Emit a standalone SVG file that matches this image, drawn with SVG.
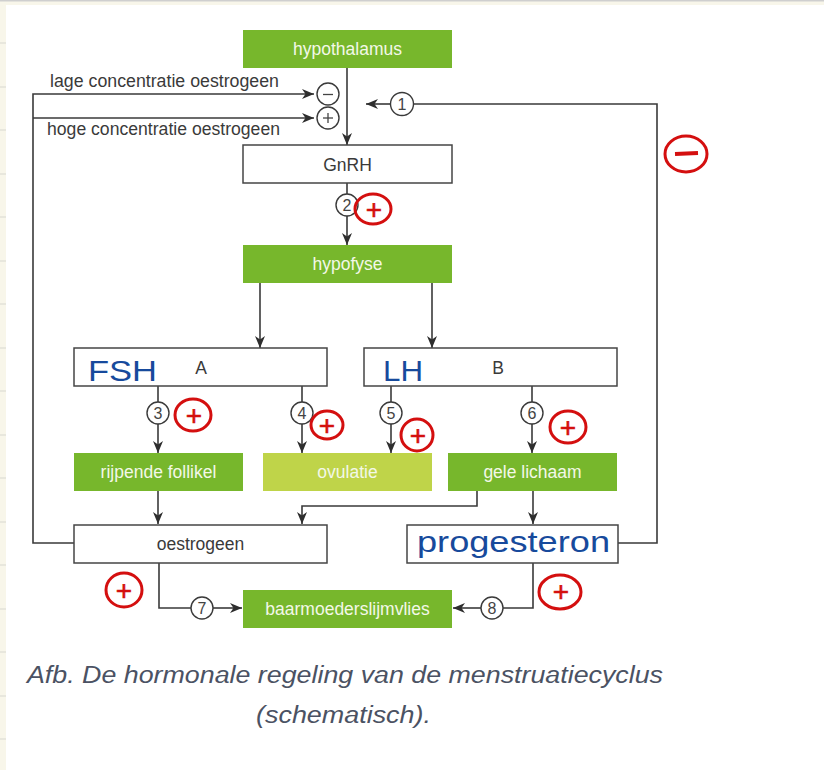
<svg xmlns="http://www.w3.org/2000/svg" width="824" height="770" viewBox="0 0 824 770">
<style>
.g{fill:#77b72c}
.lg{fill:#bfd449}
.w{fill:#fff;stroke:#454545;stroke-width:1.5}
.tg{font-family:"Liberation Sans",Arial,sans-serif;font-size:17.5px;fill:#f3f8e8;text-anchor:middle}
.tw{font-family:"Liberation Sans",Arial,sans-serif;font-size:17.5px;fill:#3a3a3a;text-anchor:middle}
.tl{font-family:"Liberation Sans",Arial,sans-serif;font-size:17.5px;fill:#3a3a3a}
.ln{fill:none;stroke:#3a3a3a;stroke-width:1.6}
.nc{fill:#fff;stroke:#3a3a3a;stroke-width:1.4}
.nt{font-family:"Liberation Sans",Arial,sans-serif;font-size:16px;fill:#444;text-anchor:middle}
.re{fill:none;stroke:#d40f0f;stroke-width:3}
.rt{font-family:"Liberation Sans",Arial,sans-serif;font-size:28px;fill:#d40f0f;stroke:#d40f0f;stroke-width:0.6;text-anchor:middle}
.bt{font-family:"Liberation Sans",Arial,sans-serif;fill:#174a9c}
.cap{font-family:"Liberation Sans",Arial,sans-serif;font-style:italic;font-size:23px;fill:#4b5263}
</style>
<defs>
<marker id="ah" viewBox="0 0 12 10" refX="12" refY="5" markerWidth="12" markerHeight="10" markerUnits="userSpaceOnUse" orient="auto">
<path d="M0,0 L12,5 L0,10 L3.5,5 z" fill="#2e2e2e"/>
</marker>
</defs>
<rect x="0" y="0" width="824" height="770" fill="#f8f6ea"/>
<rect x="0" y="0" width="824" height="1.5" fill="#cfcfcf"/>
<rect x="6" y="5" width="818" height="765" fill="#fff"/>
<g stroke="#d8d8d0" stroke-width="1">
<line x1="0" y1="43" x2="6" y2="43"/><line x1="0" y1="87" x2="6" y2="87"/><line x1="0" y1="130" x2="6" y2="130"/><line x1="0" y1="174" x2="6" y2="174"/><line x1="0" y1="217" x2="6" y2="217"/><line x1="0" y1="261" x2="6" y2="261"/><line x1="0" y1="304" x2="6" y2="304"/><line x1="0" y1="348" x2="6" y2="348"/><line x1="0" y1="391" x2="6" y2="391"/><line x1="0" y1="435" x2="6" y2="435"/><line x1="0" y1="478" x2="6" y2="478"/><line x1="0" y1="522" x2="6" y2="522"/><line x1="0" y1="565" x2="6" y2="565"/><line x1="0" y1="609" x2="6" y2="609"/><line x1="0" y1="652" x2="6" y2="652"/><line x1="0" y1="696" x2="6" y2="696"/><line x1="0" y1="739" x2="6" y2="739"/>
</g>

<g id="connectors">
<line class="ln" x1="347" y1="68" x2="347" y2="145" marker-end="url(#ah)"/>
<polyline class="ln" points="74,543 33,543 33,94 314,94" marker-end="url(#ah)"/>
<line class="ln" x1="33" y1="118" x2="314" y2="118" marker-end="url(#ah)"/>
<polyline class="ln" points="618,543 657,543 657,104 414,104"/>
<line class="ln" x1="390" y1="104" x2="366" y2="104" marker-end="url(#ah)"/>
<line class="ln" x1="347" y1="183" x2="347" y2="194"/>
<line class="ln" x1="347" y1="216" x2="347" y2="245" marker-end="url(#ah)"/>
<line class="ln" x1="260" y1="283" x2="260" y2="348" marker-end="url(#ah)"/>
<line class="ln" x1="432" y1="283" x2="432" y2="348" marker-end="url(#ah)"/>
<line class="ln" x1="158" y1="386" x2="158" y2="402"/>
<line class="ln" x1="158" y1="424" x2="158" y2="453" marker-end="url(#ah)"/>
<line class="ln" x1="302" y1="386" x2="302" y2="402"/>
<line class="ln" x1="302" y1="424" x2="302" y2="453" marker-end="url(#ah)"/>
<line class="ln" x1="391" y1="386" x2="391" y2="402"/>
<line class="ln" x1="391" y1="424" x2="391" y2="453" marker-end="url(#ah)"/>
<line class="ln" x1="532" y1="386" x2="532" y2="402"/>
<line class="ln" x1="532" y1="424" x2="532" y2="453" marker-end="url(#ah)"/>
<line class="ln" x1="158" y1="491" x2="158" y2="524" marker-end="url(#ah)"/>
<polyline class="ln" points="477,491 477,506 302,506 302,524" marker-end="url(#ah)"/>
<line class="ln" x1="533" y1="491" x2="533" y2="524" marker-end="url(#ah)"/>
<polyline class="ln" points="159,563 159,608 191,608"/>
<line class="ln" x1="213" y1="608" x2="242" y2="608" marker-end="url(#ah)"/>
<polyline class="ln" points="533,563 533,608 503,608"/>
<line class="ln" x1="481" y1="608" x2="453" y2="608" marker-end="url(#ah)"/>
</g>

<g id="hypothalamus"><rect class="g" x="243" y="30" width="209" height="38"/><text class="tg" x="347.5" y="54.5">hypothalamus</text></g>
<g id="lage"><text class="tl" x="50" y="87" textLength="229" lengthAdjust="spacingAndGlyphs">lage concentratie oestrogeen</text></g>
<g id="hoge"><text class="tl" x="47" y="135" textLength="233" lengthAdjust="spacingAndGlyphs">hoge concentratie oestrogeen</text></g>
<g id="min"><circle class="nc" cx="328" cy="94" r="11"/><line x1="323" y1="94.5" x2="333" y2="94.5" stroke="#444" stroke-width="1.3"/></g>
<g id="plus"><circle class="nc" cx="328" cy="118" r="11"/><line x1="323" y1="118" x2="333" y2="118" stroke="#444" stroke-width="1.3"/><line x1="328" y1="113" x2="328" y2="123" stroke="#444" stroke-width="1.3"/></g>
<g id="n1"><circle class="nc" cx="402" cy="104" r="11.5"/><text class="nt" x="402" y="110">1</text></g>
<g id="gnrh"><rect class="w" x="243" y="145" width="209" height="38"/><text class="tw" x="347.5" y="170.5">GnRH</text></g>
<g id="n2"><circle class="nc" cx="347" cy="205" r="11"/><text class="nt" x="347" y="211">2</text></g>
<g id="hypofyse"><rect class="g" x="243" y="245" width="209" height="38"/><text class="tg" x="347.5" y="269.5">hypofyse</text></g>
<g id="boxA"><rect class="w" x="74" y="348" width="253" height="38"/><text class="tw" x="201" y="373.5">A</text></g>
<g id="boxB"><rect class="w" x="364" y="348" width="253" height="38"/><text class="tw" x="498" y="373.5">B</text></g>
<g id="n3"><circle class="nc" cx="158" cy="413" r="11"/><text class="nt" x="158" y="419">3</text></g>
<g id="n4"><circle class="nc" cx="302" cy="413" r="11"/><text class="nt" x="302" y="419">4</text></g>
<g id="n5"><circle class="nc" cx="391" cy="413" r="11"/><text class="nt" x="391" y="419">5</text></g>
<g id="n6"><circle class="nc" cx="532" cy="413" r="11"/><text class="nt" x="532" y="419">6</text></g>
<g id="follikel"><rect class="g" x="74" y="453" width="169" height="38"/><text class="tg" x="158.5" y="477.5">rijpende follikel</text></g>
<g id="ovulatie"><rect class="lg" x="263" y="453" width="169" height="38"/><text class="tg" x="347.5" y="477.5">ovulatie</text></g>
<g id="gele"><rect class="g" x="448" y="453" width="169" height="38"/><text class="tg" x="532.5" y="477.5">gele lichaam</text></g>
<g id="oestrogeen"><rect class="w" x="74" y="525" width="253" height="38"/><text class="tw" x="200.5" y="549.5">oestrogeen</text></g>
<g id="progesteron"><rect class="w" x="407" y="525" width="211" height="38"/></g>
<g id="n7"><circle class="nc" cx="202" cy="608" r="11"/><text class="nt" x="202" y="614">7</text></g>
<g id="n8"><circle class="nc" cx="492" cy="608" r="11"/><text class="nt" x="492" y="614">8</text></g>
<g id="baarmoeder"><rect class="g" x="243" y="590" width="209" height="38"/><text class="tg" x="347.5" y="614.5">baarmoederslijmvlies</text></g>

<g id="handwriting">
<text class="bt" x="88" y="381" font-size="30" textLength="69" lengthAdjust="spacingAndGlyphs">FSH</text>
<text class="bt" x="383" y="381" font-size="30" textLength="40" lengthAdjust="spacingAndGlyphs">LH</text>
<text class="bt" x="417" y="552" font-size="29" textLength="193" lengthAdjust="spacingAndGlyphs">progesteron</text>
</g>
<g id="annotations">
<ellipse class="re" cx="686" cy="154" rx="21" ry="18"/><line x1="675" y1="154" x2="698" y2="153" stroke="#d40f0f" stroke-width="4"/>
<ellipse class="re" cx="373" cy="209" rx="18" ry="15"/><text class="rt" x="374" y="219">+</text>
<ellipse class="re" cx="193" cy="415" rx="18" ry="16"/><text class="rt" x="194" y="425">+</text>
<ellipse class="re" cx="327" cy="425" rx="16" ry="14"/><text class="rt" x="327" y="435">+</text>
<ellipse class="re" cx="417" cy="435" rx="16" ry="16"/><text class="rt" x="418" y="445">+</text>
<ellipse class="re" cx="568" cy="427" rx="18" ry="16"/><text class="rt" x="568" y="437">+</text>
<ellipse class="re" cx="124" cy="590" rx="18" ry="17"/><text class="rt" x="124" y="600">+</text>
<ellipse class="re" cx="560" cy="592" rx="21" ry="17"/><text class="rt" x="561" y="601">+</text>
</g>
<g id="caption">
<text class="cap" x="27" y="683" textLength="636" lengthAdjust="spacingAndGlyphs">Afb. De hormonale regeling van de menstruatiecyclus</text>
<text class="cap" x="256" y="723" textLength="175" lengthAdjust="spacingAndGlyphs">(schematisch).</text>
</g>
</svg>
